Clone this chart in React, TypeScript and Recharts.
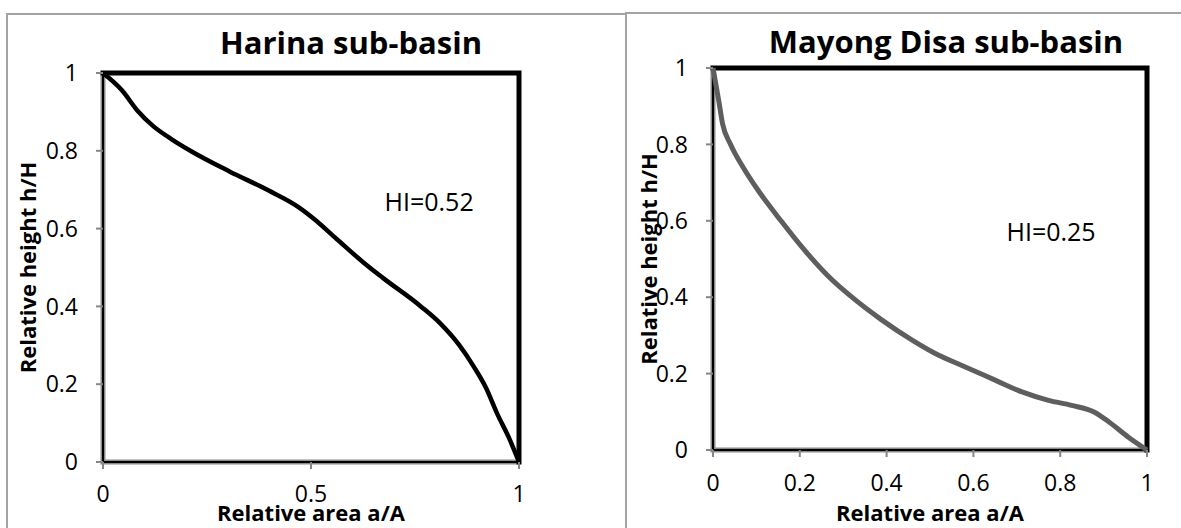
import { LineChart, Line, XAxis, YAxis, ReferenceDot } from "recharts";

// hypsometric curve, Harina sub-basin
const harinaArea = [0, 0.046, 0.083, 0.12, 0.166, 0.212, 0.304, 0.396, 0.469, 0.506, 0.561, 0.626, 0.672, 0.764, 0.81, 0.856, 0.892, 0.92, 0.948, 0.976, 1];
const harinaHeight = [1, 0.955, 0.903, 0.864, 0.829, 0.799, 0.747, 0.699, 0.656, 0.626, 0.574, 0.513, 0.474, 0.4, 0.357, 0.301, 0.244, 0.192, 0.123, 0.062, 0];

// hypsometric curve, Mayong Disa sub-basin
const mayongArea = [0, 0.013, 0.022, 0.04, 0.07, 0.105, 0.158, 0.211, 0.264, 0.316, 0.387, 0.457, 0.51, 0.58, 0.65, 0.712, 0.773, 0.826, 0.879, 0.914, 0.958, 1];
const mayongHeight = [1, 0.916, 0.854, 0.801, 0.739, 0.678, 0.598, 0.523, 0.457, 0.404, 0.342, 0.289, 0.254, 0.218, 0.183, 0.152, 0.13, 0.117, 0.099, 0.072, 0.033, 0];

// frame drawn as series: top + right edge, left + bottom edge
const frameArea = [0, 1, 1];
const frameHeight = [1, 1, 0];
const axisArea = [0, 0, 1];
const axisHeight = [1, 0, 0];

const harinaTicksX = [0, 0.5, 1];
const mayongTicksX = [0, 0.2, 0.4, 0.6, 0.8, 1];
const ticksY = [0, 0.2, 0.4, 0.6, 0.8, 1];

const toPoints = (xs: number[], ys: number[]) => xs.map((x, i) => ({ x, y: ys[i] }));

const FONT = "'Open Sans', sans-serif";
const tickStyle = { fill: "#000", fontSize: 23, fontFamily: FONT };

const VLabel = (props: any) => {
  const { viewBox, value, dx } = props;
  const cx = viewBox.x + dx;
  const cy = viewBox.y + viewBox.height / 2;
  return (
    <text
      x={cx}
      y={cy}
      transform={`rotate(-90 ${cx} ${cy})`}
      textAnchor="middle"
      dominantBaseline="central"
      fontFamily={FONT}
      fontWeight="bold"
      fontSize={22}
      fill="#000"
    >
      {value}
    </text>
  );
};

type PanelProps = {
  width: number;
  curve: { x: number; y: number }[];
  curveColor: string;
  curveWidth: number;
  ticksX: number[];
  margin: { top: number; right: number; bottom: number; left: number };
  yAxisWidth: number;
  yLabelDx: number;
  xAxisHeight: number;
  tickGapX: number;
  hi: string;
  hiPos: { x: number; y: number };
};

function HypsoPanel(p: PanelProps) {
  return (
    <LineChart width={p.width} height={528} margin={p.margin}>
      <XAxis
        type="number"
        dataKey="x"
        domain={[0, 1]}
        ticks={p.ticksX}
        axisLine={false}
        tickLine={{ stroke: "#868686", strokeWidth: 2 }}
        tickSize={7}
        tickMargin={p.tickGapX}
        tick={tickStyle}
        height={p.xAxisHeight}
        label={{ value: "Relative area a/A", position: "insideBottom", offset: 1, fill: "#000", fontSize: 22, fontWeight: "bold", fontFamily: FONT }}
      />
      <YAxis
        type="number"
        dataKey="y"
        domain={[0, 1]}
        ticks={ticksY}
        axisLine={false}
        tickLine={{ stroke: "#868686", strokeWidth: 2 }}
        tickSize={7}
        tickMargin={18}
        tick={tickStyle}
        width={p.yAxisWidth}
        label={<VLabel value="Relative height h/H" dx={p.yLabelDx} />}
      />
      <Line data={toPoints(axisArea, axisHeight)} dataKey="y" type="linear" stroke="#8a8a8a" strokeWidth={5} dot={false} isAnimationActive={false} />
      <Line data={toPoints(axisArea, axisHeight)} dataKey="y" type="linear" stroke="#000" strokeWidth={2} dot={false} isAnimationActive={false} />
      <Line data={toPoints(frameArea, frameHeight)} dataKey="y" type="linear" stroke="#000" strokeWidth={5} strokeLinecap="square" dot={false} isAnimationActive={false} />
      <Line data={p.curve} dataKey="y" type="monotoneX" stroke={p.curveColor} strokeWidth={p.curveWidth} dot={false} isAnimationActive={false} />
      <ReferenceDot
        x={p.hiPos.x}
        y={p.hiPos.y}
        r={1}
        fill="none"
        stroke="none"
        label={{ value: p.hi, position: "center", fill: "#000", fontSize: 25, fontFamily: FONT }}
      />
    </LineChart>
  );
}

const titleStyle = {
  position: "absolute" as const,
  width: 600,
  textAlign: "center" as const,
  fontFamily: FONT,
  fontWeight: 700,
  fontSize: 31,
  lineHeight: "31px",
  color: "#000",
  whiteSpace: "nowrap" as const,
};

export default function App() {
  return (
    <div style={{ position: "fixed", left: 0, top: 0, width: 1181, height: 528, background: "#fff", overflow: "hidden" }}>
      <div style={{ position: "absolute", left: 6, top: 13, width: 617, height: 530, borderLeft: "2px solid #a3a3a3", borderTop: "2px solid #a3a3a3", borderRight: "2px solid #a3a3a3" }} />
      <div style={{ position: "absolute", left: 625, top: 12, width: 600, height: 2, background: "#a3a3a3" }} />

      <div style={{ position: "absolute", left: 0, top: 0 }}>
        <HypsoPanel
          width={625}
          curve={toPoints(harinaArea, harinaHeight)}
          curveColor="#000"
          curveWidth={4.5}
          ticksX={harinaTicksX}
          margin={{ top: 73, right: 106, bottom: 6, left: 13 }}
          yAxisWidth={90}
          yLabelDx={14}
          xAxisHeight={60}
          tickGapX={17}
          hi="HI=0.52"
          hiPos={{ x: 0.784, y: 0.668 }}
        />
      </div>
      <div style={{ ...titleStyle, left: 351 - 300, top: 27 }}>Harina sub-basin</div>

      <div style={{ position: "absolute", left: 625, top: 0 }}>
        <HypsoPanel
          width={556}
          curve={toPoints(mayongArea, mayongHeight)}
          curveColor="#5e5e5e"
          curveWidth={5}
          ticksX={mayongTicksX}
          margin={{ top: 68, right: 34, bottom: 6, left: 8 }}
          yAxisWidth={80}
          yLabelDx={15}
          xAxisHeight={72}
          tickGapX={18}
          hi="HI=0.25"
          hiPos={{ x: 0.779, y: 0.571 }}
        />
      </div>
      <div style={{ ...titleStyle, left: 946 - 300, top: 26 }}>Mayong Disa sub-basin</div>
    </div>
  );
}
